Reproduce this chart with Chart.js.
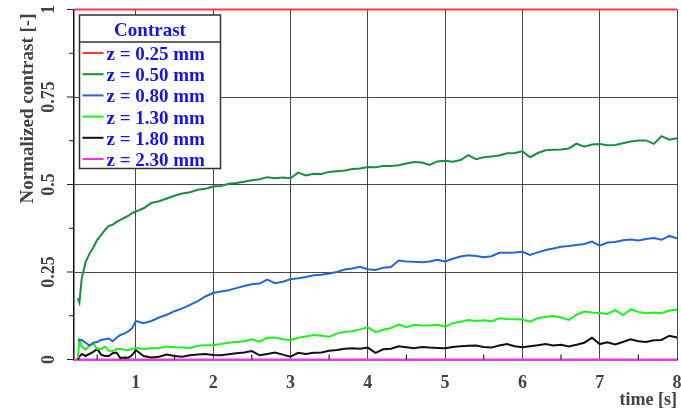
<!DOCTYPE html>
<html>
<head>
<meta charset="utf-8">
<script src="https://cdn.jsdelivr.net/npm/chart.js@4.4.1/dist/chart.umd.min.js"></script>
<style>
  html, body { margin: 0; padding: 0; background: #ffffff; }
  #wrap { width: 681px; height: 413px; position: relative; }
</style>
</head>
<body>
<div id="wrap"><canvas id="c" width="681" height="413"></canvas></div>
<script>
// Sampling instants [s]
const times = [0.25, 0.27, 0.30, 0.35, 0.40, 0.45, 0.50, 0.55, 0.60, 0.65, 0.70, 0.75, 0.80, 0.85, 0.90, 0.95, 1.00,
  1.1, 1.2, 1.3, 1.4, 1.5, 1.6, 1.7, 1.8, 1.9, 2.0,
  2.1, 2.2, 2.3, 2.4, 2.5, 2.6, 2.7, 2.8, 2.9, 3.0,
  3.1, 3.2, 3.3, 3.4, 3.5, 3.6, 3.7, 3.8, 3.9, 4.0,
  4.1, 4.2, 4.3, 4.4, 4.5, 4.6, 4.7, 4.8, 4.9, 5.0,
  5.1, 5.2, 5.3, 5.4, 5.5, 5.6, 5.7, 5.8, 5.9, 6.0,
  6.1, 6.2, 6.3, 6.4, 6.5, 6.6, 6.7, 6.8, 6.9, 7.0,
  7.1, 7.2, 7.3, 7.4, 7.5, 7.6, 7.7, 7.8, 7.9, 8.0];

// Depths that stay flat over the whole record
const flatTimes = [0.2, 8.0];
const z025 = [1, 1];
const z230 = [0, 0];

const z050 = [0.175, 0.163, 0.232, 0.278, 0.302, 0.320, 0.342, 0.355, 0.370, 0.382, 0.385, 0.393, 0.399, 0.405, 0.410, 0.418, 0.423,
  0.432, 0.447, 0.452, 0.460, 0.468, 0.474, 0.478, 0.485, 0.488, 0.494,
  0.496, 0.502, 0.504, 0.508, 0.512, 0.515, 0.521, 0.518, 0.520, 0.518,
  0.534, 0.526, 0.531, 0.530, 0.536, 0.538, 0.540, 0.544, 0.546, 0.550,
  0.549, 0.553, 0.553, 0.555, 0.560, 0.564, 0.563, 0.556, 0.566, 0.568,
  0.565, 0.570, 0.584, 0.572, 0.578, 0.580, 0.583, 0.589, 0.590, 0.595,
  0.578, 0.590, 0.598, 0.599, 0.600, 0.603, 0.617, 0.608, 0.614, 0.616,
  0.612, 0.613, 0.618, 0.623, 0.626, 0.626, 0.616, 0.638, 0.628, 0.632];

const z080 = [0.053, 0.056, 0.056, 0.048, 0.040, 0.048, 0.050, 0.056, 0.058, 0.060, 0.052, 0.062, 0.070, 0.074, 0.080, 0.089, 0.110,
  0.104, 0.110, 0.120, 0.128, 0.138, 0.146, 0.156, 0.167, 0.180, 0.190,
  0.194, 0.198, 0.204, 0.210, 0.215, 0.217, 0.228, 0.218, 0.222, 0.229,
  0.232, 0.236, 0.241, 0.242, 0.246, 0.250, 0.257, 0.260, 0.265, 0.258,
  0.256, 0.262, 0.264, 0.283, 0.280, 0.279, 0.278, 0.280, 0.285, 0.280,
  0.288, 0.294, 0.298, 0.296, 0.292, 0.295, 0.305, 0.305, 0.306, 0.308,
  0.299, 0.306, 0.313, 0.317, 0.322, 0.324, 0.327, 0.330, 0.337, 0.325,
  0.334, 0.336, 0.341, 0.343, 0.340, 0.344, 0.347, 0.342, 0.353, 0.346];

const z130 = [0.004, 0.055, 0.037, 0.028, 0.040, 0.045, 0.030, 0.030, 0.037, 0.025, 0.024, 0.030, 0.030, 0.028, 0.027, 0.030, 0.033,
  0.030, 0.032, 0.033, 0.037, 0.035, 0.034, 0.033, 0.039, 0.041, 0.041,
  0.044, 0.048, 0.050, 0.052, 0.058, 0.051, 0.062, 0.063, 0.058, 0.056,
  0.062, 0.066, 0.070, 0.068, 0.065, 0.074, 0.079, 0.081, 0.086, 0.092,
  0.078, 0.085, 0.090, 0.100, 0.092, 0.099, 0.097, 0.097, 0.099, 0.094,
  0.104, 0.108, 0.113, 0.110, 0.112, 0.109, 0.118, 0.116, 0.115, 0.114,
  0.108, 0.118, 0.122, 0.124, 0.120, 0.113, 0.128, 0.137, 0.134, 0.133,
  0.130, 0.141, 0.127, 0.143, 0.136, 0.132, 0.134, 0.132, 0.140, 0.142];

const z180 = [0.000, 0.008, 0.016, 0.010, 0.016, 0.022, 0.030, 0.014, 0.010, 0.010, 0.018, 0.020, 0.004, 0.006, 0.005, 0.012, 0.027,
  0.010, 0.006, 0.008, 0.014, 0.010, 0.008, 0.012, 0.014, 0.016, 0.013,
  0.012, 0.015, 0.018, 0.020, 0.024, 0.012, 0.016, 0.020, 0.014, 0.008,
  0.019, 0.016, 0.019, 0.020, 0.025, 0.027, 0.031, 0.032, 0.031, 0.034,
  0.019, 0.029, 0.031, 0.038, 0.035, 0.032, 0.036, 0.034, 0.033, 0.032,
  0.036, 0.038, 0.039, 0.040, 0.036, 0.034, 0.040, 0.044, 0.038, 0.035,
  0.038, 0.041, 0.044, 0.040, 0.042, 0.037, 0.042, 0.048, 0.062, 0.044,
  0.049, 0.043, 0.050, 0.058, 0.052, 0.050, 0.055, 0.056, 0.068, 0.063];

const seriesLabels = ['z = 0.25 mm', 'z = 0.50 mm', 'z = 0.80 mm', 'z = 1.30 mm', 'z = 1.80 mm', 'z = 2.30 mm'];
const seriesColors = ['#ff3b3b', '#1b8e3e', '#2266d8', '#1ef01e', '#111111', '#ff2cf0'];

const xTickValues = [1, 2, 3, 4, 5, 6, 7, 8];
const xTickLabels = ['1', '2', '3', '4', '5', '6', '7', '8'];
const yTickValues = [0, 0.25, 0.5, 0.75, 1];
const yTickLabels = ['0', '0.25', '0.5', '0.75', '1'];
const xMinorValues = [0.5, 1.5, 2.5, 3.5, 4.5, 5.5, 6.5, 7.5];
const yMinorValues = [0.125, 0.375, 0.625, 0.875];

const legendTitle = 'Contrast';
const xTitle = 'time [s]';
const yTitle = 'Normalized contrast [-]';

const SERIF = "'Liberation Serif', 'Times New Roman', serif";
const AXIS_TEXT = '#424242';
const LEGEND_TEXT = '#1414f0';

function pts(xs, ys) { return xs.map((x, i) => ({ x: x, y: ys[i] })); }

const seriesData = [
  pts(flatTimes, z025),
  pts(times, z050),
  pts(times, z080),
  pts(times, z130),
  pts(times, z180),
  pts(flatTimes, z230)
];

const decor = {
  id: 'decor',
  afterDraw(chart) {
    const ctx = chart.ctx;
    const xs = chart.scales.x, ys = chart.scales.y;
    const a = chart.chartArea;
    ctx.save();

    // tick marks: y outward, x minor inward
    ctx.strokeStyle = '#222';
    ctx.lineWidth = 1.2;
    ctx.beginPath();
    yTickValues.forEach(v => { const p = ys.getPixelForValue(v); ctx.moveTo(a.left - 7, p); ctx.lineTo(a.left, p); });
    yMinorValues.forEach(v => { const p = ys.getPixelForValue(v); ctx.moveTo(a.left - 5, p); ctx.lineTo(a.left, p); });
    xMinorValues.forEach(v => { const p = xs.getPixelForValue(v); ctx.moveTo(p, a.bottom); ctx.lineTo(p, a.bottom - 5); });
    ctx.stroke();

    // tick labels
    ctx.fillStyle = AXIS_TEXT;
    ctx.font = 'bold 18px ' + SERIF;
    ctx.textAlign = 'center';
    ctx.textBaseline = 'alphabetic';
    xTickValues.forEach((v, i) => {
      ctx.fillText(xTickLabels[i], xs.getPixelForValue(v), a.bottom + 28);
    });
    yTickValues.forEach((v, i) => {
      ctx.save();
      ctx.translate(a.left - 20.5, ys.getPixelForValue(v));
      ctx.rotate(-Math.PI / 2);
      ctx.fillText(yTickLabels[i], 0, 0);
      ctx.restore();
    });

    // axis titles
    ctx.font = 'bold 18px ' + SERIF;
    ctx.textAlign = 'right';
    ctx.fillText(xTitle, a.right, 405);
    ctx.save();
    ctx.font = 'bold 19px ' + SERIF;
    ctx.translate(33, 108.5);
    ctx.rotate(-Math.PI / 2);
    ctx.textAlign = 'center';
    ctx.fillText(yTitle, 0, 0);
    ctx.restore();

    // legend box
    const bx = 79.5, by = 15, bw = 141, bh = 153.5, sep = 42;
    ctx.fillStyle = '#ffffff';
    ctx.fillRect(bx, by, bw, bh);
    ctx.strokeStyle = '#333';
    ctx.lineWidth = 1.5;
    ctx.strokeRect(bx, by, bw, bh);
    ctx.beginPath();
    ctx.moveTo(bx, sep); ctx.lineTo(bx + bw, sep);
    ctx.stroke();

    ctx.fillStyle = LEGEND_TEXT;
    ctx.font = 'bold 19px ' + SERIF;
    ctx.textAlign = 'center';
    ctx.fillText(legendTitle, bx + bw / 2, 36);

    ctx.textAlign = 'left';
    chart.data.datasets.forEach((ds, i) => {
      const yy = 53 + i * 21.2;
      ctx.strokeStyle = ds.borderColor;
      ctx.lineWidth = 2;
      ctx.beginPath();
      ctx.moveTo(82.5, yy); ctx.lineTo(103.5, yy);
      ctx.stroke();
      ctx.fillStyle = LEGEND_TEXT;
      ctx.fillText(ds.label, 106.5, yy + 7);
    });
    ctx.restore();
  }
};

new Chart(document.getElementById('c'), {
  type: 'line',
  data: {
    datasets: seriesData.map((d, i) => ({
      label: seriesLabels[i],
      data: d,
      borderColor: seriesColors[i],
      backgroundColor: seriesColors[i],
      borderWidth: 2,
      pointRadius: 0,
      tension: 0,
      fill: false,
      clip: false
    }))
  },
  options: {
    responsive: false,
    animation: false,
    events: [],
    layout: { padding: { top: 9.5, right: 4, left: 0, bottom: 0 } },
    plugins: { legend: { display: false }, tooltip: { enabled: false } },
    scales: {
      x: {
        type: 'linear',
        min: 0.2,
        max: 8,
        afterBuildTicks: s => { s.ticks = xTickValues.map(v => ({ value: v })); },
        afterFit: s => { s.height = 53.5; },
        ticks: { display: false },
        grid: { color: 'rgba(40,40,40,0.85)', lineWidth: 1, drawTicks: false },
        border: { color: '#111', width: 1.5 }
      },
      y: {
        type: 'linear',
        min: 0,
        max: 1,
        afterBuildTicks: s => { s.ticks = yTickValues.map(v => ({ value: v })); },
        afterFit: s => { s.width = 74; },
        ticks: { display: false },
        grid: { color: 'rgba(40,40,40,0.85)', lineWidth: 1, drawTicks: false },
        border: { color: '#111', width: 1.5 }
      }
    }
  },
  plugins: [decor]
});
</script>
</body>
</html>
